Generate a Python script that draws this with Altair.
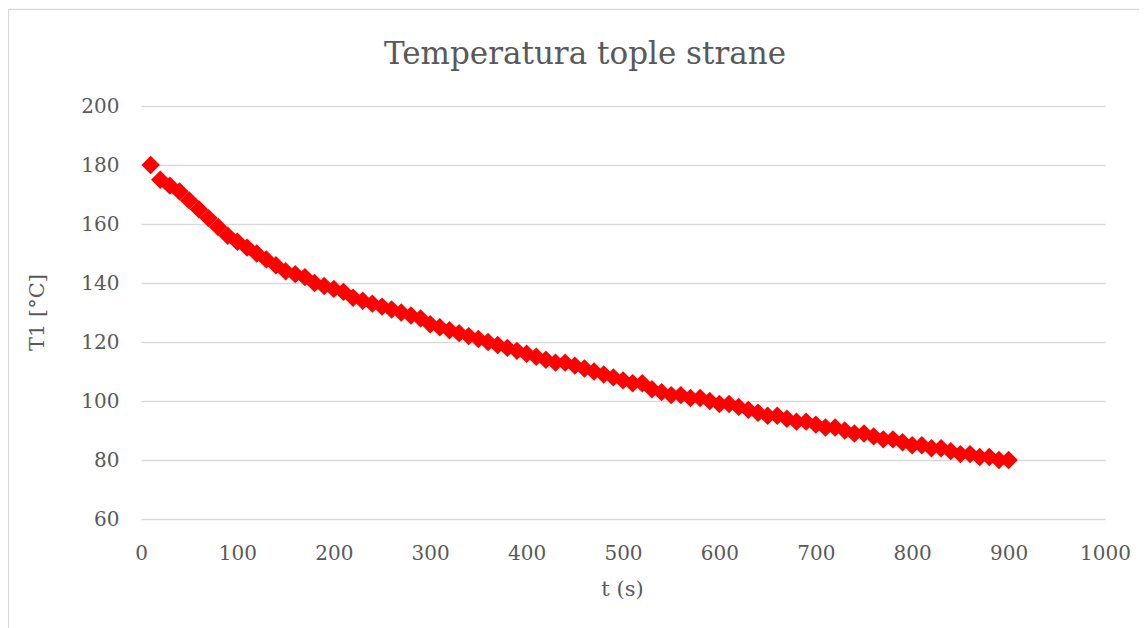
import altair as alt
import pandas as pd

t_values = list(range(10, 901, 10))
T1_values = [
    180, 175, 173, 171, 168, 165, 162, 159, 156, 154,
    152, 150, 148, 146, 144, 143, 142, 140, 139, 138,
    137, 135, 134, 133, 132, 131, 130, 129, 128, 126,
    125, 124, 123, 122, 121, 120, 119, 118, 117, 116,
    115, 114, 113, 113, 112, 111, 110, 109, 108, 107,
    106, 106, 104, 103, 102, 102, 101, 101, 100, 99,
    99, 98, 97, 96, 95, 95, 94, 93, 93, 92,
    91, 91, 90, 89, 89, 88, 87, 87, 86, 85,
    85, 84, 84, 83, 82, 82, 81, 81, 80, 80,
]
x_ticks = list(range(0, 1001, 100))
y_ticks = list(range(60, 201, 20))
title_text = "Temperatura tople strane"
x_title = "t (s)"
y_title = "T1 [°C]"

df = pd.DataFrame({"t": t_values, "T1": T1_values})

TEXT = "#595959"
FONT = "DejaVu Serif"
GRID = "#D9D9D9"

points = alt.Chart(df).mark_point(
    shape="diamond", filled=True, size=340, color="#FF0000", opacity=1
).encode(
    x=alt.X("t:Q",
            scale=alt.Scale(domain=[0, 1000], nice=False),
            axis=alt.Axis(values=x_ticks, format="d", grid=False, domain=False, ticks=False,
                          labelFlush=False, labelOverlap=False,
                          labelPadding=24, labelFontSize=20, labelColor=TEXT, labelFont=FONT,
                          title=x_title, titleFont=FONT, titleFontSize=21, titleColor=TEXT,
                          titleFontWeight="normal", titleX=481, titleY=70,
                          titleBaseline="middle", titleAlign="center")),
    y=alt.Y("T1:Q",
            scale=alt.Scale(domain=[60, 200], nice=False, zero=False),
            axis=alt.Axis(values=y_ticks, format="d", grid=True, gridColor=GRID, gridWidth=1.3,
                          domain=False, ticks=False, labelFlush=False, labelOverlap=False,
                          labelPadding=22, labelFontSize=20, labelColor=TEXT, labelFont=FONT,
                          title=y_title, titleFont=FONT, titleFontSize=21, titleColor=TEXT,
                          titleFontWeight="normal", titleX=-104, titleY=206,
                          titleAngle=270, titleAlign="center", titleBaseline="middle")),
)

border = alt.Chart(pd.DataFrame({"a": [0]})).mark_rect(
    fillOpacity=0, stroke=GRID, strokeWidth=1.3
).encode(
    x=alt.value(-132.5), x2=alt.value(1010), y=alt.value(-96.5), y2=alt.value(530)
)

chart = alt.layer(border, points).properties(
    width=964,
    height=413,
    title=alt.TitleParams(title_text, fontSize=31, font=FONT, color=TEXT,
                          fontWeight="normal", anchor="middle", dx=-38,
                          offset=32, dy=94),
    autosize=alt.AutoSizeParams(type="none"),
    padding={"left": 133, "top": 98, "right": 34, "bottom": 109},
).configure_view(stroke=None)

chart.save("out.html", embed_options={"renderer": "svg", "actions": False})
